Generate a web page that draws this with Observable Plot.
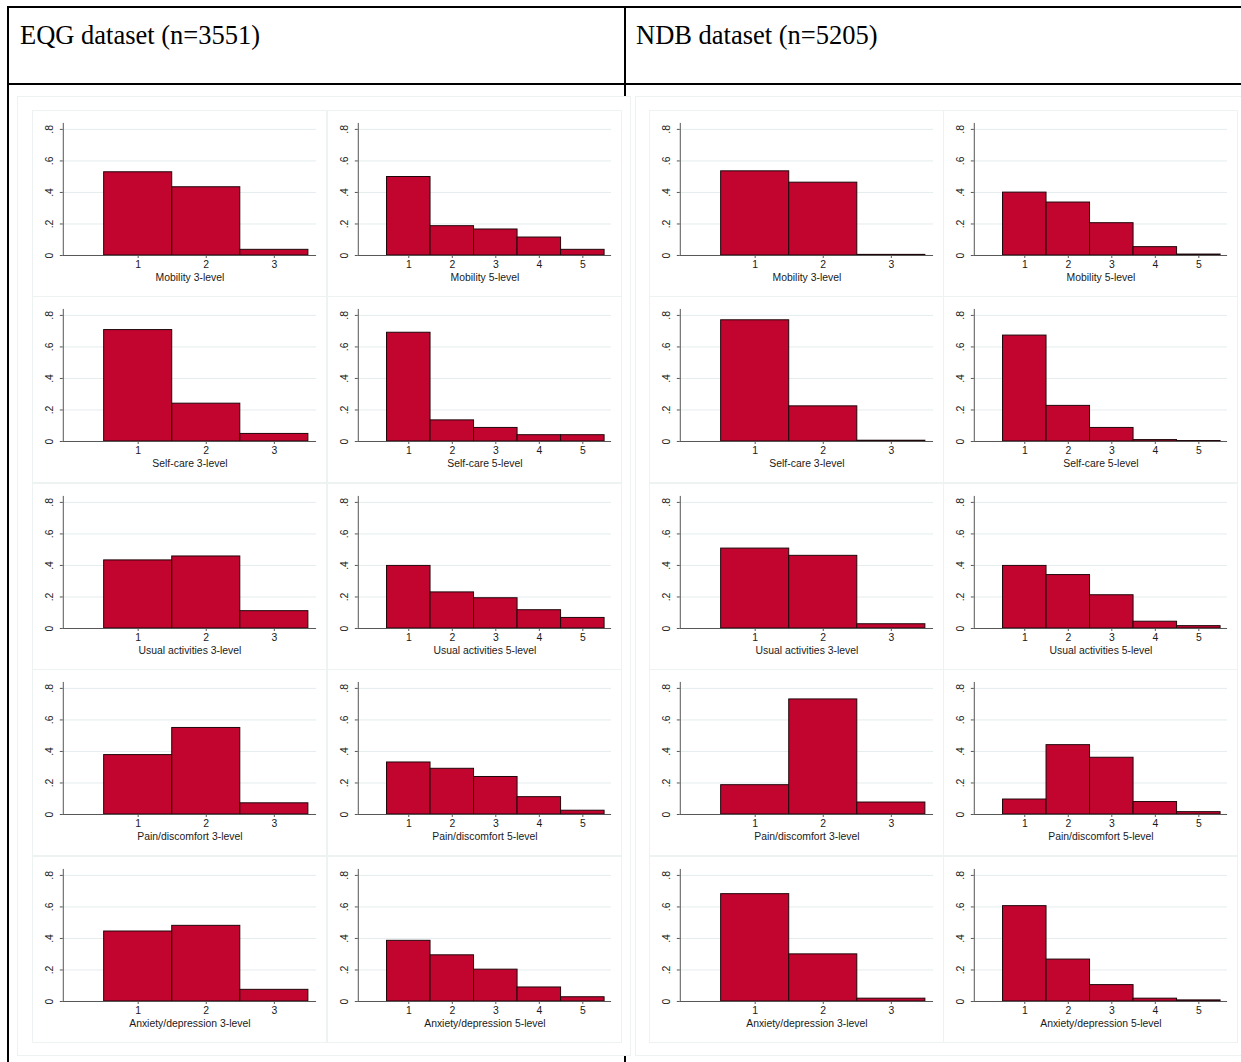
<!DOCTYPE html>
<html><head><meta charset="utf-8">
<script src="https://cdn.jsdelivr.net/npm/d3@7"></script>
<script src="https://cdn.jsdelivr.net/npm/@observablehq/plot@0.6"></script>
<style>
html,body{margin:0;padding:0;background:#fff}
body{width:1241px;height:1062px;position:relative;overflow:hidden;font-family:"Liberation Sans",Arial,sans-serif}
.abs{position:absolute;box-sizing:border-box}
.line{position:absolute;background:#000}
.hdr{position:absolute;font-family:"Liberation Serif","Times New Roman",serif;font-size:26.5px;line-height:26px;color:#000;white-space:nowrap}
.imgbox{position:absolute;background:#fff;border:1px solid #eef2f2;box-sizing:border-box}
.panel{position:absolute;border:1px solid #edf2f3;box-sizing:border-box;width:295px;height:187px;overflow:visible}
.panel svg{position:absolute;left:-1px;top:-1px;overflow:visible}
</style></head><body>
<script>
// ---- data ----
const datasetTitles = ["EQG dataset (n=3551)", "NDB dataset (n=5205)"];
const dimensions = ["Mobility", "Self-care", "Usual activities", "Pain/discomfort", "Anxiety/depression"];
const levels3 = [1, 2, 3];
const levels5 = [1, 2, 3, 4, 5];
const yTicks = [0, 0.2, 0.4, 0.6, 0.8];
const yTickLabels = ["0", ".2", ".4", ".6", ".8"];

// density per response level, rows follow `dimensions`
const eqg3 = [
  [0.528, 0.433, 0.036],
  [0.707, 0.240, 0.048],
  [0.432, 0.457, 0.110],
  [0.377, 0.549, 0.071],
  [0.444, 0.480, 0.074]
];
const eqg5 = [
  [0.498, 0.186, 0.165, 0.114, 0.036],
  [0.690, 0.134, 0.086, 0.040, 0.040],
  [0.397, 0.229, 0.192, 0.116, 0.067],
  [0.330, 0.290, 0.238, 0.110, 0.024],
  [0.385, 0.293, 0.202, 0.089, 0.027]
];
const ndb3 = [
  [0.534, 0.462, 0.004],
  [0.769, 0.223, 0.005],
  [0.507, 0.461, 0.027],
  [0.186, 0.730, 0.076],
  [0.681, 0.299, 0.018]
];
const ndb5 = [
  [0.399, 0.336, 0.205, 0.053, 0.006],
  [0.672, 0.226, 0.086, 0.009, 0.003],
  [0.397, 0.339, 0.211, 0.043, 0.015],
  [0.095, 0.440, 0.360, 0.079, 0.015],
  [0.605, 0.266, 0.104, 0.018, 0.007]
];

// ---- layout ----
const body = document.body;
function div(cls, style, text) {
  const d = document.createElement("div");
  d.className = cls;
  Object.assign(d.style, style);
  if (text) d.textContent = text;
  body.appendChild(d);
  return d;
}
// table lines
div("line", {left: "7px", top: "6px", width: "1234px", height: "2px"});
div("line", {left: "7px", top: "6px", width: "2px", height: "1056px"});
div("line", {left: "7px", top: "83px", width: "1234px", height: "2px"});
div("line", {left: "624px", top: "6px", width: "2px", height: "1056px"});
div("hdr", {left: "20px", top: "22px"}, datasetTitles[0]);
div("hdr", {left: "636px", top: "22px"}, datasetTitles[1]);
// image boxes
div("imgbox", {left: "17px", top: "96px", width: "614px", height: "960px"});
div("imgbox", {left: "635px", top: "96px", width: "610px", height: "960px"});

const FILL = "#c1052f";
const YMAX = 0.838;
function panel(values, levels, label) {
  const five = levels.length === 5;
  const xDomain = five ? [-0.16, 5.66] : [-0.1, 3.62];
  const data = levels.map((l, i) => ({level: l, density: values[i]}));
  return Plot.plot({
    width: 295, height: 187,
    marginLeft: 31, marginRight: 9, marginTop: 13, marginBottom: 41,
    x: {domain: xDomain},
    y: {domain: [0, YMAX]},
    style: {fontFamily: "'Liberation Sans', Arial, sans-serif", background: "transparent", color: "#222"},
    marks: [
      Plot.gridY(yTicks, {stroke: "#e4eced", strokeOpacity: 1}),
      Plot.rect(data, {x1: d => d.level - 0.5, x2: d => d.level + 0.5, y1: d => 0, y2: "density",
        fill: FILL, stroke: "#1e070b", strokeWidth: 1}),
      Plot.ruleX([xDomain[0]], {y1: 0, y2: YMAX, stroke: "#555"}),
      Plot.ruleY([0], {stroke: "#555"}),
      Plot.axisY(yTicks, {tickFormat: () => "", tickSize: 3, label: null, stroke: "#555"}),
      Plot.text(yTicks, {x: xDomain[0], y: d => d, text: (d, i) => yTickLabels[i], rotate: -90,
        dx: -14, fontSize: 10.5, textAnchor: "middle", lineAnchor: "middle", fill: "#1a1a1a"}),
      Plot.axisX(levels, {tickSize: 3, tickPadding: 2.5, fontSize: 10.5, label: null, stroke: "#555", fill: "#1a1a1a"}),
      Plot.text([label], {frameAnchor: "bottom", dy: 22, fontSize: 10.5, lineAnchor: "middle", fill: "#1a1a1a", text: d => d})
    ]
  });
}

const colX = [[32, 327], [649, 943]];
const rowY = [110, 296, 483, 669, 856];
const sets = [[eqg3, eqg5], [ndb3, ndb5]];
for (let s = 0; s < 2; s++) {
  for (let r = 0; r < 5; r++) {
    for (let k = 0; k < 2; k++) {
      const lv = k === 0 ? levels3 : levels5;
      const label = dimensions[r] + (k === 0 ? " 3-level" : " 5-level");
      const p = div("panel", {left: colX[s][k] + "px", top: rowY[r] + "px"});
      p.appendChild(panel(sets[s][k][r], lv, label));
    }
  }
}
</script>
</body></html>
